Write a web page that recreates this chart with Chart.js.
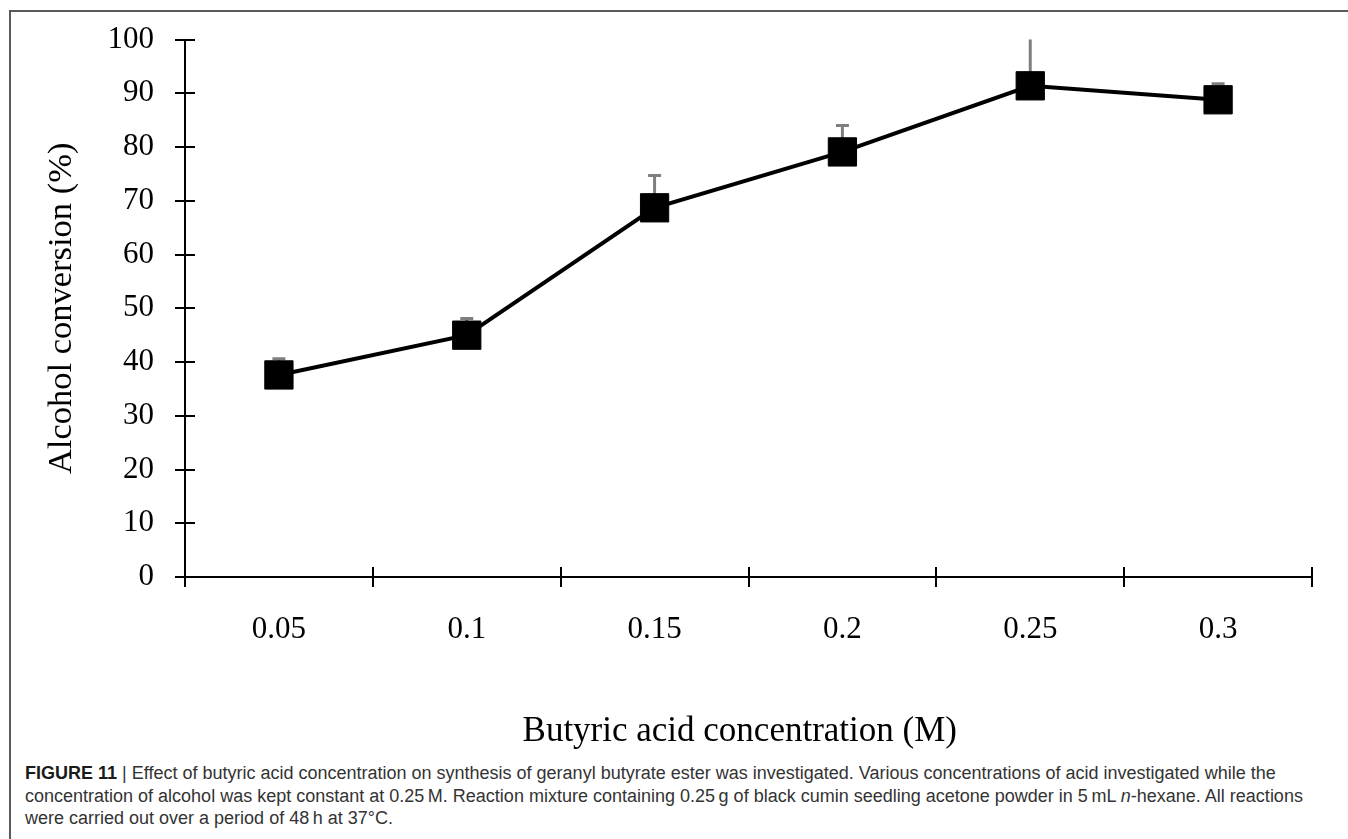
<!DOCTYPE html>
<html>
<head>
<meta charset="utf-8">
<script src="https://cdn.jsdelivr.net/npm/chart.js@4.4.1/dist/chart.umd.min.js"></script>
<style>
  html, body { margin: 0; padding: 0; background: #fff; overflow: hidden; }
  body { width: 1348px; height: 839px; position: relative; }
  #frame {
    position: absolute; left: 9px; top: 10px; width: 1400px; height: 900px;
    border-top: 2px solid #5a5a5a; border-left: 2px solid #5a5a5a; box-sizing: border-box;
  }
  #plot { position: absolute; left: 0; top: 0; width: 1348px; height: 760px; }
  #caption {
    position: absolute; left: 25px; top: 762px; width: 1320px;
    font-family: "Liberation Sans", Arial, sans-serif; font-size: 18px; line-height: 22.7px;
    color: #333; white-space: nowrap;
  }
  #caption b { color: #1a1a1a; }
</style>
</head>
<body>
<div id="frame"></div>
<canvas id="plot" width="1348" height="760"></canvas>
<div id="caption"><b>FIGURE 11</b> | Effect of butyric acid concentration on synthesis of geranyl butyrate ester was investigated. Various concentrations of acid investigated while the<br>concentration of alcohol was kept constant at 0.25&#8201;M. Reaction mixture containing 0.25&#8201;g of black cumin seedling acetone powder in 5&#8201;mL <i>n</i>-hexane. All reactions<br>were carried out over a period of 48&#8201;h at 37&#176;C.</div>
<script>
// Butyric acid concentrations (M)
const concentrations = ['0.05', '0.1', '0.15', '0.2', '0.25', '0.3'];
// Mean alcohol conversion (%)
const conversion = [37.6, 45.0, 68.7, 79.1, 91.4, 88.8];
// Upper error (standard deviation, %)
const upperError = [3.0, 3.1, 6.0, 4.9, 9.0, 3.0];
// Y axis ticks
const yTicks = [0, 10, 20, 30, 40, 50, 60, 70, 80, 90, 100];

const serif = '"Liberation Serif", "Times New Roman", serif';

// Upper error bars, clipped to the plotting area
const errorBars = {
  id: 'errorBars',
  beforeDatasetsDraw(chart) {
    const { ctx, chartArea, scales: { x, y } } = chart;
    ctx.save();
    ctx.beginPath();
    ctx.rect(chartArea.left, chartArea.top, chartArea.right - chartArea.left, chartArea.bottom - chartArea.top);
    ctx.clip();
    ctx.strokeStyle = '#7f7f7f';
    ctx.lineWidth = 3;
    conversion.forEach((v, i) => {
      const px = x.getPixelForValue(i);
      const y0 = y.getPixelForValue(v);
      const y1 = y.getPixelForValue(v + upperError[i]);
      ctx.beginPath();
      ctx.moveTo(px, y0);
      ctx.lineTo(px, y1);
      ctx.moveTo(px - 6.5, y1);
      ctx.lineTo(px + 6.5, y1);
      ctx.stroke();
    });
    ctx.restore();
  }
};

// Tick marks that cross the axis lines (inner half)
const crossTicks = {
  id: 'crossTicks',
  afterDraw(chart) {
    const { ctx, scales: { x, y } } = chart;
    const len = 10;
    ctx.save();
    ctx.strokeStyle = '#000';
    ctx.lineWidth = 2;
    ctx.beginPath();
    y.ticks.forEach((t, i) => {
      const py = Math.round(y.getPixelForTick(i));
      ctx.moveTo(y.right, py);
      ctx.lineTo(y.right + len, py);
    });
    for (let i = 0; i <= concentrations.length; i++) {
      const px = Math.round(x.getPixelForValue(i - 0.5));
      ctx.moveTo(px, x.top);
      ctx.lineTo(px, x.top - len);
    }
    ctx.stroke();
    ctx.restore();
  }
};

new Chart(document.getElementById('plot'), {
  type: 'line',
  data: {
    labels: concentrations,
    datasets: [{
      data: conversion,
      borderColor: '#000',
      borderWidth: 4,
      backgroundColor: '#000',
      pointStyle: 'rect',
      pointRadius: 20,
      pointHoverRadius: 20,
      pointBorderWidth: 1,
      pointBorderColor: '#000',
      pointBackgroundColor: '#000',
      tension: 0,
      clip: false
    }]
  },
  options: {
    responsive: false,
    animation: false,
    events: [],
    layout: { padding: { left: 0, top: 38, right: 36, bottom: 0 } },
    plugins: { legend: { display: false }, tooltip: { enabled: false } },
    scales: {
      x: {
        type: 'category',
        offset: true,
        afterFit(scale) { scale.height = 183; },
        grid: { offset: true, drawOnChartArea: false, drawTicks: true, tickLength: 10, color: '#000', lineWidth: 2 },
        border: { display: true, color: '#000', width: 2 },
        ticks: { color: '#000', font: { family: serif, size: 31 }, padding: 24, maxRotation: 0, autoSkip: false },
        title: { display: true, text: 'Butyric acid concentration (M)\u00a0\u00a0', color: '#000',
                 font: { family: serif, size: 35 }, padding: { top: 0, bottom: 7 } }
      },
      y: {
        min: 0,
        max: 100,
        afterFit(scale) { scale.width = 185; },
        afterBuildTicks(scale) { scale.ticks = yTicks.map(v => ({ value: v })); },
        grid: { drawOnChartArea: false, drawTicks: true, tickLength: 10, color: '#000', lineWidth: 2 },
        border: { display: true, color: '#000', width: 2 },
        ticks: { color: '#000', font: { family: serif, size: 31 }, padding: 21 },
        title: { display: true, text: 'Alcohol conversion (%)', color: '#000',
                 font: { family: serif, size: 34.5 }, padding: { top: 41, bottom: 0 } }
      }
    }
  },
  plugins: [errorBars, crossTicks]
});
</script>
</body>
</html>
